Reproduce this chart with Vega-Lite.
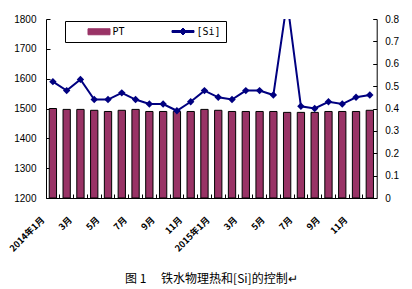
{
  "$schema": "https://vega.github.io/schema/vega-lite/v6.json",
  "autosize": {"type": "none"},
  "width": 330.7,
  "height": 179,
  "padding": {"left": 46, "top": 19, "right": 35.3, "bottom": 91},
  "background": "white",
  "data": {"values": [
    {"m": "2014-01", "PT": 1500, "Si": 0.52},
    {"m": "2014-02", "PT": 1497, "Si": 0.48},
    {"m": "2014-03", "PT": 1497, "Si": 0.53},
    {"m": "2014-04", "PT": 1494, "Si": 0.44},
    {"m": "2014-05", "PT": 1490, "Si": 0.44},
    {"m": "2014-06", "PT": 1494, "Si": 0.47},
    {"m": "2014-07", "PT": 1497, "Si": 0.44},
    {"m": "2014-08", "PT": 1490, "Si": 0.42},
    {"m": "2014-09", "PT": 1490, "Si": 0.42},
    {"m": "2014-10", "PT": 1490, "Si": 0.39},
    {"m": "2014-11", "PT": 1490, "Si": 0.43},
    {"m": "2014-12", "PT": 1497, "Si": 0.48},
    {"m": "2015-01", "PT": 1494, "Si": 0.45},
    {"m": "2015-02", "PT": 1490, "Si": 0.44},
    {"m": "2015-03", "PT": 1490, "Si": 0.48},
    {"m": "2015-04", "PT": 1490, "Si": 0.48},
    {"m": "2015-05", "PT": 1490, "Si": 0.46},
    {"m": "2015-06", "PT": 1487, "Si": 0.88},
    {"m": "2015-07", "PT": 1487, "Si": 0.41},
    {"m": "2015-08", "PT": 1487, "Si": 0.40},
    {"m": "2015-09", "PT": 1490, "Si": 0.43},
    {"m": "2015-10", "PT": 1490, "Si": 0.42},
    {"m": "2015-11", "PT": 1490, "Si": 0.45},
    {"m": "2015-12", "PT": 1494, "Si": 0.46}
  ]},
  "title": {
    "text": "图 1\u3000 铁水物理热和[Si]的控制↵",
    "orient": "bottom",
    "anchor": "middle",
    "frame": "group",
    "font": "Noto Sans CJK SC",
    "fontSize": 12,
    "fontWeight": "normal",
    "color": "black",
    "offset": 21
  },
  "layer": [
    {
      "mark": {"type": "bar", "width": {"band": 0.53}, "stroke": "black", "strokeWidth": 1},
      "encoding": {
        "x": {
          "field": "m", "type": "ordinal", "sort": null,
          "scale": {"paddingInner": 0, "paddingOuter": 0},
          "axis": {"orient": "bottom", "bandPosition": 0, "labels": false, "tickSize": -4, "tickColor": "black", "domainColor": "black", "title": null, "grid": false}
        },
        "y": {
          "field": "PT", "type": "quantitative",
          "scale": {"domain": [1200, 1800], "zero": false, "nice": false},
          "axis": {"orient": "left", "values": [1200, 1300, 1400, 1500, 1600, 1700, 1800], "format": "d", "tickSize": -4, "tickColor": "black", "domainColor": "black", "labelFont": "Liberation Sans", "labelFontSize": 10, "labelColor": "black", "labelPadding": 14, "title": null, "grid": false}
        },
        "y2": {"datum": 1200},
        "color": {
          "datum": "PT", "type": "nominal",
          "scale": {"domain": ["PT", "[Si]"], "range": ["#993366", "#000080"]},
          "legend": {
            "orient": "none", "legendX": 19, "legendY": 2, "direction": "horizontal", "title": null,
            "strokeColor": "black", "fillColor": "white", "padding": 5,
            "labelFont": "DejaVu Sans Mono", "labelFontSize": 10, "labelColor": "black",
            "labelExpr": "datum.label == '[Si]' ? '[Si]\u00a0\u00a0\u00a0\u00a0' : datum.label",
            "symbolSize": 100, "symbolStrokeWidth": 1, "symbolOffset": 23.5, "labelOffset": 8, "columnPadding": 29,
            "encode": {
              "symbols": {"update": {
                "shape": {"signal": "datum.value == 'PT' ? 'M-2.2,-0.6H2.2V0.6H-2.2Z' : 'M-2.2,-0.2H2.2V0.2H-2.2Z M0,-0.7L0.7,0L0,0.7L-0.7,0Z'"},
                "fill": {"signal": "datum.value == 'PT' ? '#993366' : '#000080'"},
                "stroke": {"signal": "datum.value == 'PT' ? 'black' : '#000080'"},
                "opacity": {"value": 1}
              }}
            }
          }
        }
      }
    },
    {
      "mark": {"type": "line", "color": "#000080", "strokeWidth": 2, "clip": true,
        "point": {"filled": true, "shape": "diamond", "size": 55, "color": "#000080"}},
      "encoding": {
        "x": {
          "field": "m", "type": "ordinal", "sort": null,
          "axis": {"orient": "bottom", "ticks": false, "domain": false, "title": null, "grid": false,
            "values": ["2014-01", "2014-03", "2014-05", "2014-07", "2014-09", "2014-11", "2015-01", "2015-03", "2015-05", "2015-07", "2015-09", "2015-11"],
            "labelExpr": "substring(datum.value,5,7) == '01' ? substring(datum.value,0,4) + '年1月' : (+substring(datum.value,5,7)) + '月'",
            "labelAngle": -45, "labelAlign": "right", "labelBaseline": "middle",
            "labelFont": "Noto Sans CJK SC", "labelFontSize": 9, "labelFontWeight": "bold", "labelColor": "black",
            "labelPadding": 20, "labelOffset": -10}
        },
        "y": {
          "field": "Si", "type": "quantitative",
          "scale": {"domain": [0, 0.8], "nice": false},
          "axis": {"orient": "right", "values": [0, 0.1, 0.2, 0.3, 0.4, 0.5, 0.6, 0.7, 0.8], "format": ".1~f", "tickSize": -4, "tickColor": "black", "domainColor": "black", "labelFont": "Liberation Sans", "labelFontSize": 10, "labelColor": "black", "labelPadding": 12, "title": null, "grid": false}
        },
        "color": {
          "datum": "[Si]", "type": "nominal",
          "legend": {
            "orient": "none", "legendX": 19, "legendY": 2, "direction": "horizontal", "title": null,
            "strokeColor": "black", "fillColor": "white", "padding": 5,
            "labelFont": "DejaVu Sans Mono", "labelFontSize": 10, "labelColor": "black",
            "labelExpr": "datum.label == '[Si]' ? '[Si]\u00a0\u00a0\u00a0\u00a0' : datum.label",
            "symbolSize": 100, "symbolStrokeWidth": 1, "symbolOffset": 23.5, "labelOffset": 8, "columnPadding": 29,
            "encode": {
              "symbols": {"update": {
                "shape": {"signal": "datum.value == 'PT' ? 'M-2.2,-0.6H2.2V0.6H-2.2Z' : 'M-2.2,-0.2H2.2V0.2H-2.2Z M0,-0.7L0.7,0L0,0.7L-0.7,0Z'"},
                "fill": {"signal": "datum.value == 'PT' ? '#993366' : '#000080'"},
                "stroke": {"signal": "datum.value == 'PT' ? 'black' : '#000080'"},
                "opacity": {"value": 1}
              }}
            }
          }
        }
      }
    }
  ],
  "resolve": {"scale": {"y": "independent"}, "axis": {"x": "independent"}},
  "config": {"view": {"stroke": null}, "axis": {"labelFlush": false, "labelOverlap": false}}
}
